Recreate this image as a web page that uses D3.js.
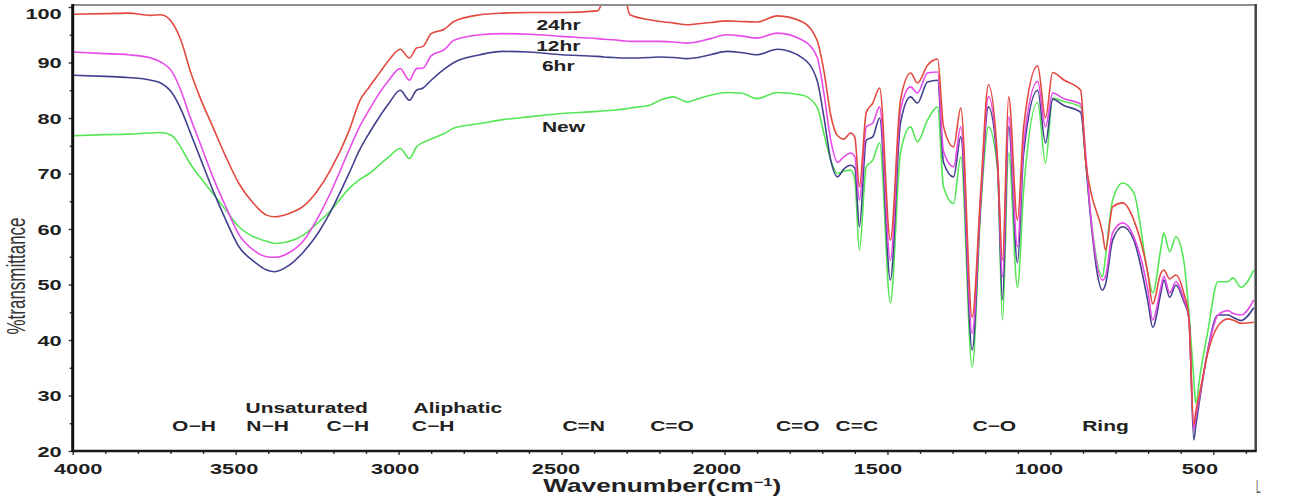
<!DOCTYPE html>
<html>
<head>
<meta charset="utf-8">
<script src="https://cdn.jsdelivr.net/npm/d3@7"></script>
<style>
body { margin: 0; background: #fff; }
svg { display: block; }
text { font-family: "Liberation Sans", Arial, sans-serif; }
</style>
</head>
<body>
<div id="chart"></div>
<script>
const width = 1293;
const height = 498;

// wavenumber grid (cm-1), shared by all four spectra
const wavenumbers = [4000, 3900, 3830, 3760, 3730, 3695, 3665, 3640, 3610, 3570,
    3530, 3490, 3445, 3405, 3380, 3340, 3290, 3250, 3210, 3150,
    3120, 3090, 3060, 3030, 2995, 2967, 2945, 2925, 2900, 2860,
    2830, 2750, 2680, 2600, 2500, 2390, 2370, 2340, 2310, 2290,
    2230, 2197, 2156, 2115, 2095, 2043, 1992, 1950, 1900, 1838,
    1760, 1716, 1695, 1674, 1653, 1634, 1613, 1600, 1586, 1565,
    1545, 1524, 1491, 1460, 1429, 1408, 1377, 1346, 1328, 1297,
    1275, 1240, 1214, 1190, 1162, 1147, 1128, 1101, 1082, 1039,
    1015, 993, 960, 907, 892, 877, 840, 831, 809, 778,
    744, 701, 686, 661, 652, 634, 615, 591, 575, 560,
    554, 540, 517, 486, 455, 440, 415, 376];

const t24 = [98.7, 98.8, 98.9, 98.5, 98.6, 97.2, 93.5, 88.6, 83.8, 78.4,
    73, 68.2, 64.6, 62.5, 62.2, 62.7, 64.2, 66.8, 70.5, 78,
    83, 85.6, 88, 90.4, 92.4, 90.8, 92.6, 92.9, 95.2, 96,
    97.4, 98.6, 98.9, 99, 99, 99.3, 101.5, 104, 103, 98.6,
    97.7, 97.4, 97.1, 96.8, 96.9, 97.2, 97.5, 97.4, 97.3, 98.4,
    97.3, 94, 88.5, 80.5, 76.8, 76.2, 77.3, 76.5, 67.6, 81,
    82.7, 85.4, 58, 83.2, 88.1, 86.3, 89.5, 90.6, 78.5, 74.8,
    81.8, 44.1, 66.5, 86, 72.4, 54.4, 83.8, 61.6, 78.4, 89.4,
    80, 88.2, 86.9, 85, 72.4, 67, 59.3, 56.2, 64, 64.7,
    61.6, 52, 46.5, 52, 52.6, 51, 51.7, 48.5, 44, 24.7,
    27, 31, 37.7, 42.5, 43.8, 43.6, 43, 43.2];

const t12 = [91.9, 91.6, 91.4, 90.8, 90.1, 88.3, 84.5, 80.2, 75.6, 69.4,
    64, 59, 56.2, 55, 54.9, 55.6, 58, 61.8, 66.4, 74.5,
    78.4, 81.5, 84.4, 86.8, 88.9, 86.8, 88.9, 89, 91.2, 92.3,
    94, 95, 95.2, 95.1, 94.7, 94.3, 94.2, 94.1, 93.9, 93.8,
    93.8, 93.8, 93.7, 93.5, 93.6, 94.3, 95, 94.8, 94.4, 95.3,
    94, 91, 84.5, 76, 72, 73, 73.7, 73, 65.2, 78.4,
    79.1, 82, 54.4, 81.4, 85.6, 84.5, 88.1, 88.3, 74, 71.2,
    78.4, 41.2, 65.2, 83.8, 71.9, 51.4, 80.2, 56.8, 75.5, 86.6,
    78.4, 84.5, 83.5, 82.5, 73.7, 62.9, 50.8, 51.5, 59.3, 61.1,
    58.6, 49, 43.6, 49.5, 51.5, 48.5, 50.5, 47.5, 44, 23.8,
    26, 30.5, 38, 44.5, 45.3, 44.8, 44.5, 47.2];

const t6 = [87.7, 87.5, 87.3, 86.8, 86.3, 84.5, 81.2, 77.5, 73, 67,
    61.6, 56.8, 54.2, 52.6, 52.3, 53.3, 56, 59, 63, 70.3,
    74.2, 77.3, 80.1, 82.6, 85, 83.2, 85, 85.4, 86.8, 88.8,
    90, 91.4, 92, 91.9, 91.4, 91.1, 91, 90.9, 90.8, 90.8,
    90.9, 91, 90.9, 90.7, 90.8, 91.4, 92, 91.8, 91.4, 92.4,
    90.8, 86.8, 80.2, 72.4, 69.4, 70.8, 71.5, 71, 60.4, 76,
    76.6, 80, 50.8, 79.1, 83.8, 82.7, 86.5, 86.8, 72, 69.4,
    76.6, 38.2, 64.6, 82, 71.2, 47.2, 78.4, 53.9, 73.7, 85,
    75.5, 83.4, 82.3, 81, 72.5, 62.2, 49, 50, 58, 60.4,
    58, 47, 42.3, 48.5, 50.8, 47.7, 49.9, 47, 44, 22,
    24.5, 30, 38.2, 44.5, 44.5, 44.1, 43.5, 45.8];

const tNew = [76.8, 77, 77.1, 77.3, 77.4, 76.8, 74.4, 71.8, 69.4, 66.4,
    63.4, 60.4, 58.6, 57.8, 57.4, 57.7, 59, 61, 63.2, 67.4,
    68.9, 70, 71.5, 73, 74.5, 72.7, 74.8, 75.6, 76.2, 77.2,
    78.2, 79, 79.7, 80.2, 80.8, 81.2, 81.3, 81.4, 81.6, 81.8,
    82.3, 83.2, 83.8, 82.9, 83.2, 84.1, 84.6, 84.5, 83.5, 84.6,
    84.1, 82, 77.2, 72.4, 70, 70.4, 70.6, 68.8, 56.2, 71.2,
    72.4, 75.5, 46.7, 73.7, 78.4, 75.7, 79.6, 82, 67.6, 64.6,
    73, 35.1, 63.4, 78.4, 70.6, 43.6, 73.7, 49.5, 67, 82.8,
    71.9, 83.6, 83, 82, 72.4, 62.9, 51.4, 55, 65.2, 68.3,
    66.5, 52, 48.5, 56.5, 59.3, 55.9, 58.6, 54.4, 45, 33,
    28.6, 34, 41.5, 50.5, 50.5, 51.2, 49.5, 52.6];

const seriesNames = ["New", "6hr", "12hr", "24hr"];
const seriesColors = ["#55e655", "#41418e", "#e84ce8", "#e2493f"];

// label for each curve: wavenumber and %T where it sits
const curveLabelWn = [2494, 2510, 2510, 2509];
const curveLabelT = [77.5, 88.5, 92, 95.9];

const xTicks = [4000, 3500, 3000, 2500, 2000, 1500, 1000, 500];
const yTicks = [20, 30, 40, 50, 60, 70, 80, 90, 100];

// functional group labels along the bottom
const bandNames = ["O\u2212H", "N\u2212H", "C\u2212H", "C\u2212H", "C=N", "C=O", "C=O", "C=C", "C\u2212O", "Ring"];
const bandWn = [3628, 3402, 3156, 2894, 2432, 2161, 1775, 1594, 1172, 831];
const groupNames = ["Unsaturated", "Aliphatic"];
const groupWn = [3282, 2818];

const plotLeft = 72.7, plotRight = 1255.7, plotTop = 5, plotBottom = 451;

const svg = d3.select("#chart")
    .append("svg")
    .attr("width", width)
    .attr("height", height)
    .style("background", "#fff");

const x = d3.scaleLinear().domain([4000, 370]).range([plotLeft, plotRight]);
const y = d3.scaleLinear().domain([20, 100]).range([plotBottom, 7]);

svg.append("clipPath")
    .attr("id", "plot-clip")
    .append("rect")
    .attr("x", plotLeft)
    .attr("y", plotTop)
    .attr("width", plotRight - plotLeft)
    .attr("height", plotBottom - plotTop);

// spectra
const line = d3.line()
    .x((d, i) => x(wavenumbers[i]))
    .y(d => y(d))
    .curve(d3.curveMonotoneX);

const allSeries = [tNew, t6, t12, t24];

svg.append("g")
    .attr("clip-path", "url(#plot-clip)")
    .selectAll("path")
    .data(allSeries)
    .join("path")
    .attr("d", line)
    .attr("fill", "none")
    .attr("stroke", (d, i) => seriesColors[i])
    .attr("stroke-width", 1.6)
    .attr("stroke-linejoin", "round");

// frame
svg.append("line")
    .attr("x1", plotLeft).attr("x2", plotRight).attr("y1", plotTop).attr("y2", plotTop)
    .attr("stroke", "#8e8e8e").attr("stroke-width", 2);
svg.append("line")
    .attr("x1", plotRight).attr("x2", plotRight).attr("y1", plotTop - 1).attr("y2", plotBottom)
    .attr("stroke", "#444").attr("stroke-width", 2.5);

// y axis
const yAxis = svg.append("g")
    .attr("transform", `translate(${plotLeft},0)`)
    .call(d3.axisLeft(y).tickValues(yTicks).tickSize(4).tickFormat(d3.format("d")));
svg.append("g")
    .attr("transform", `translate(${plotLeft},0)`)
    .call(d3.axisLeft(y).tickValues(d3.range(25, 100, 10)).tickSize(3).tickFormat(""))
    .select(".domain").remove();
yAxis.select(".domain").remove();
yAxis.selectAll("text")
    .attr("x", 0)
    .attr("dy", "0.35em")
    .attr("transform", d => `translate(-11,${d === 100 ? 6 : 0}) scale(1.5,1)`);

// x axis
const xAxis = svg.append("g")
    .attr("transform", `translate(0,${plotBottom})`)
    .call(d3.axisBottom(x).tickValues(xTicks).tickSize(4).tickFormat(d3.format("d")));
svg.append("g")
    .attr("transform", `translate(0,${plotBottom})`)
    .call(d3.axisBottom(x).tickValues(d3.range(3900, 370, -100).filter(v => v % 500 !== 0)).tickSize(3).tickFormat(""))
    .select(".domain").remove();
xAxis.select(".domain").remove();
xAxis.selectAll("text")
    .attr("y", 0)
    .attr("dy", 0)
    .attr("transform", d => `translate(${d === 4000 ? 5 : -4 * (4000 - d) / 1000},23) scale(1.5,1)`);

svg.selectAll(".tick line").attr("stroke", "#333").attr("stroke-width", 1.4);
svg.selectAll(".tick text")
    .attr("fill", "#1e1e1e")
    .style("font-size", "14.5px")
    .style("font-weight", "bold")
    .style("font-family", '"Liberation Sans", Arial, sans-serif');

svg.append("line")
    .attr("x1", plotLeft).attr("x2", plotLeft).attr("y1", plotTop - 1).attr("y2", plotBottom + 1)
    .attr("stroke", "#111").attr("stroke-width", 3);
svg.append("line")
    .attr("x1", plotLeft).attr("x2", plotRight + 1).attr("y1", plotBottom).attr("y2", plotBottom)
    .attr("stroke", "#1a1a1a").attr("stroke-width", 2.5);

// text labels (the original picture is stretched sideways)
function label(txt, cx, cy, size) {
    svg.append("text")
        .attr("transform", `translate(${cx},${cy}) scale(1.5,1)`)
        .attr("text-anchor", "middle")
        .attr("fill", "#222")
        .style("font-size", size + "px")
        .style("font-weight", "bold")
        .text(txt);
}

seriesNames.forEach((n, i) => label(n, x(curveLabelWn[i]), y(curveLabelT[i]), 14));
bandNames.forEach((n, i) => label(n, x(bandWn[i]), 430.7, 14));
groupNames.forEach((n, i) => label(n, x(groupWn[i]), 412.7, 14));

// axis titles
const xt = svg.append("text")
    .attr("transform", `translate(${(plotLeft + plotRight) / 2 - 2},492) scale(1.5,1)`)
    .attr("text-anchor", "middle")
    .attr("fill", "#222")
    .style("font-size", "17.5px")
    .style("font-weight", "bold");
xt.append("tspan").text("Wavenumber(cm");
xt.append("tspan").attr("dy", -6).style("font-size", "11px").text("\u22121");
xt.append("tspan").attr("dy", 6).text(")");

svg.append("text")
    .attr("transform", "translate(25,276) scale(1.5,1) rotate(-90)")
    .attr("text-anchor", "middle")
    .attr("fill", "#333")
    .style("font-size", "17px")
    .text("%transmittance");

// small mark in the lower right corner of the original
svg.append("text")
    .attr("transform", "translate(1256,493) scale(0.55,1.2)")
    .attr("fill", "#555")
    .style("font-size", "15px")
    .text("L");
</script>
</body>
</html>
